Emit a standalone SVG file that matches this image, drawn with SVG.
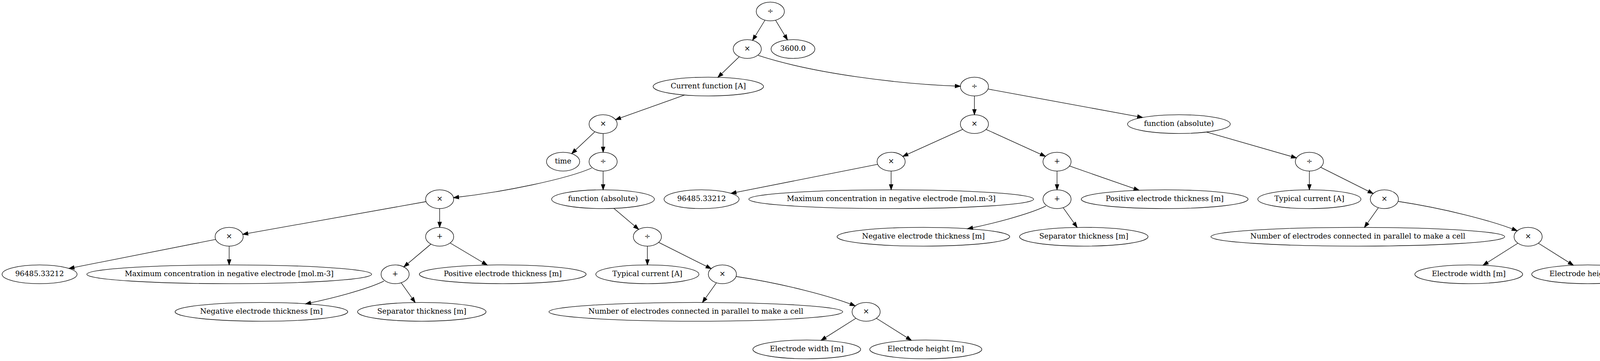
<svg xmlns="http://www.w3.org/2000/svg" width="4214" height="923" viewBox="0 0 4214 923">
<style>
.n ellipse{fill:none;stroke:#000;stroke-width:1.33}
.n text{font-family:"DejaVu Serif","Liberation Serif",serif;font-size:18.67px;text-anchor:middle;fill:#000}
#edges path{fill:none;stroke:#000;stroke-width:1.33;marker-end:url(#arr)}
</style>
<defs>
<marker id="arr" markerUnits="userSpaceOnUse" markerWidth="16" markerHeight="12" refX="13.33" refY="0" orient="auto" overflow="visible">
<path d="M0,-4.67 L13.33,0 L0,4.67 Z" fill="#000" stroke="#000" stroke-width="1.33"/>
</marker>
</defs>
<rect width="4214" height="923" fill="#fff"/>
<g id="edges">
<path d="M1958.35,51.5 L1926.65,103.1"/>
<path d="M1985.45,51.56 L2015.96,102.06"/>
<path d="M1892.5,145.03 L1837.85,197.66"/>
<path d="M1941,141.7 C2083,188 2300,215 2458.5,220.5"/>
<path d="M1752.5,242.97 L1575.74,305.98"/>
<path d="M1523.06,336.82 L1463.52,392.77"/>
<path d="M1544,341.3 L1544,389.3"/>
<path d="M1515,429.5 C1450,458 1290,491 1161,505.5"/>
<path d="M1544,437.3 L1544,485.3"/>
<path d="M1090.72,515.5 L621.38,599.1"/>
<path d="M1125.5,533.3 L1125.5,581.3"/>
<path d="M1571.46,532.76 L1635,586.46"/>
<path d="M552.09,612.13 L176.58,686.4"/>
<path d="M586.6,629.3 L586.6,677.3"/>
<path d="M1103.15,624.12 L1033.85,682.48"/>
<path d="M1152.37,621.27 L1247.32,677.72"/>
<path d="M1657.3,629.3 L1657.3,677.3"/>
<path d="M1686.1,619.7 L1820.5,686.9"/>
<path d="M983,718.7 C938,740.7 842.1,765 782.1,777"/>
<path d="M1026.93,722.98 L1062.81,773.43"/>
<path d="M1833.93,723.01 L1798.28,773.33"/>
<path d="M1884.9,707 C2003.3,725 2124.2,756.1 2189.3,782"/>
<path d="M2191.17,813.81 L2101.94,870.16"/>
<path d="M2243.49,813.77 L2333.1,870.11"/>
<path d="M2494.5,245.3 L2494.5,293.3"/>
<path d="M2529.21,227.67 L2925.24,300.29"/>
<path d="M2464.67,330.73 L2311.13,399.87"/>
<path d="M2524.26,330.81 L2676.24,399.79"/>
<path d="M3088.48,337.56 L3318.94,403.8"/>
<path d="M2246.79,420.13 L1871.28,494.4"/>
<path d="M2281.3,437.3 L2281.3,485.3"/>
<path d="M2706,437.3 L2706,485.3"/>
<path d="M2737.91,424.42 L2915.95,486.46"/>
<path d="M3352,437.3 L3352,485.3"/>
<path d="M3380.8,427.7 L3515.2,494.9"/>
<path d="M2677.7,526.7 C2632.7,548.7 2536.8,573 2476.8,585"/>
<path d="M2721.63,530.98 L2757.51,581.43"/>
<path d="M3528.63,531.01 L3492.98,581.33"/>
<path d="M3579.6,515 C3698,533 3818.9,564.1 3884,590"/>
<path d="M3885.87,621.81 L3796.64,678.16"/>
<path d="M3938.19,621.77 L4027.8,678.11"/>
</g>
<g id="n1" class="n"><ellipse cx="1972" cy="29.3" rx="36" ry="24"/><text x="1972" y="34.1">÷</text></g>
<g id="n2" class="n"><ellipse cx="1913" cy="125.3" rx="36" ry="24"/><text x="1913" y="130.1">×</text></g>
<g id="n3" class="n"><ellipse cx="2030" cy="125.3" rx="56" ry="24"/><text x="2030" y="130.1">3600.0</text></g>
<g id="n4" class="n"><ellipse cx="1813.3" cy="221.3" rx="141.3" ry="24"/><text x="1813.3" y="226.1">Current function [A]</text></g>
<g id="n5" class="n"><ellipse cx="2494.5" cy="221.3" rx="36" ry="24"/><text x="2494.5" y="226.1">÷</text></g>
<g id="n6" class="n"><ellipse cx="1544" cy="317.3" rx="36" ry="24"/><text x="1544" y="322.1">×</text></g>
<g id="n26" class="n"><ellipse cx="2494.5" cy="317.3" rx="36" ry="24"/><text x="2494.5" y="322.1">×</text></g>
<g id="n27" class="n"><ellipse cx="3018" cy="317.3" rx="131.5" ry="24"/><text x="3018" y="322.1">function (absolute)</text></g>
<g id="n7" class="n"><ellipse cx="1441.5" cy="413.3" rx="42.5" ry="24"/><text x="1441.5" y="418.1">time</text></g>
<g id="n8" class="n"><ellipse cx="1544" cy="413.3" rx="36" ry="24"/><text x="1544" y="418.1">÷</text></g>
<g id="n28" class="n"><ellipse cx="2281.3" cy="413.3" rx="36" ry="24"/><text x="2281.3" y="418.1">×</text></g>
<g id="n29" class="n"><ellipse cx="2706" cy="413.3" rx="36" ry="24"/><text x="2706" y="418.1">+</text></g>
<g id="n30" class="n"><ellipse cx="3352" cy="413.3" rx="36" ry="24"/><text x="3352" y="418.1">÷</text></g>
<g id="n9" class="n"><ellipse cx="1125.5" cy="509.3" rx="36" ry="24"/><text x="1125.5" y="514.1">×</text></g>
<g id="n10" class="n"><ellipse cx="1543.7" cy="509.3" rx="131.5" ry="24"/><text x="1543.7" y="514.1">function (absolute)</text></g>
<g id="n31" class="n"><ellipse cx="1796" cy="509.3" rx="96" ry="24"/><text x="1796" y="514.1">96485.33212</text></g>
<g id="n32" class="n"><ellipse cx="2281.5" cy="509.3" rx="364.5" ry="24"/><text x="2281.5" y="514.1">Maximum concentration in negative electrode [mol.m-3]</text></g>
<g id="n33" class="n"><ellipse cx="2706" cy="509.3" rx="36" ry="24"/><text x="2706" y="514.1">+</text></g>
<g id="n34" class="n"><ellipse cx="2981.5" cy="509.3" rx="213.5" ry="24"/><text x="2981.5" y="514.1">Positive electrode thickness [m]</text></g>
<g id="n35" class="n"><ellipse cx="3352" cy="509.3" rx="132" ry="24"/><text x="3352" y="514.1">Typical current [A]</text></g>
<g id="n36" class="n"><ellipse cx="3544" cy="509.3" rx="36" ry="24"/><text x="3544" y="514.1">×</text></g>
<g id="n11" class="n"><ellipse cx="586.6" cy="605.3" rx="36" ry="24"/><text x="586.6" y="610.1">×</text></g>
<g id="n12" class="n"><ellipse cx="1125.5" cy="605.3" rx="36" ry="24"/><text x="1125.5" y="610.1">+</text></g>
<g id="n13" class="n"><ellipse cx="1657.3" cy="605.3" rx="36" ry="24"/><text x="1657.3" y="610.1">÷</text></g>
<g id="n37" class="n"><ellipse cx="2363.9" cy="605.3" rx="221" ry="24"/><text x="2363.9" y="610.1">Negative electrode thickness [m]</text></g>
<g id="n38" class="n"><ellipse cx="2774.5" cy="605.3" rx="164.5" ry="24"/><text x="2774.5" y="610.1">Separator thickness [m]</text></g>
<g id="n39" class="n"><ellipse cx="3476" cy="605.3" rx="376" ry="24"/><text x="3476" y="610.1">Number of electrodes connected in parallel to make a cell</text></g>
<g id="n40" class="n"><ellipse cx="3912" cy="605.3" rx="36" ry="24"/><text x="3912" y="610.1">×</text></g>
<g id="n14" class="n"><ellipse cx="101.3" cy="701.3" rx="96" ry="24"/><text x="101.3" y="706.1">96485.33212</text></g>
<g id="n15" class="n"><ellipse cx="586.8" cy="701.3" rx="364.5" ry="24"/><text x="586.8" y="706.1">Maximum concentration in negative electrode [mol.m-3]</text></g>
<g id="n16" class="n"><ellipse cx="1011.5" cy="701.3" rx="36" ry="24"/><text x="1011.5" y="706.1">+</text></g>
<g id="n17" class="n"><ellipse cx="1287" cy="701.3" rx="213.5" ry="24"/><text x="1287" y="706.1">Positive electrode thickness [m]</text></g>
<g id="n18" class="n"><ellipse cx="1657.3" cy="701.3" rx="132" ry="24"/><text x="1657.3" y="706.1">Typical current [A]</text></g>
<g id="n19" class="n"><ellipse cx="1849.3" cy="701.3" rx="36" ry="24"/><text x="1849.3" y="706.1">×</text></g>
<g id="n41" class="n"><ellipse cx="3760" cy="701.3" rx="138" ry="24"/><text x="3760" y="706.1">Electrode width [m]</text></g>
<g id="n42" class="n"><ellipse cx="4064.7" cy="701.3" rx="143.5" ry="24"/><text x="4064.7" y="706.1">Electrode height [m]</text></g>
<g id="n20" class="n"><ellipse cx="669.2" cy="797.3" rx="221" ry="24"/><text x="669.2" y="802.1">Negative electrode thickness [m]</text></g>
<g id="n21" class="n"><ellipse cx="1079.8" cy="797.3" rx="164.5" ry="24"/><text x="1079.8" y="802.1">Separator thickness [m]</text></g>
<g id="n22" class="n"><ellipse cx="1781.3" cy="797.3" rx="376" ry="24"/><text x="1781.3" y="802.1">Number of electrodes connected in parallel to make a cell</text></g>
<g id="n23" class="n"><ellipse cx="2217.3" cy="797.3" rx="36" ry="24"/><text x="2217.3" y="802.1">×</text></g>
<g id="n24" class="n"><ellipse cx="2065.3" cy="893.3" rx="138" ry="24"/><text x="2065.3" y="898.1">Electrode width [m]</text></g>
<g id="n25" class="n"><ellipse cx="2370" cy="893.3" rx="143.5" ry="24"/><text x="2370" y="898.1">Electrode height [m]</text></g>
</svg>
